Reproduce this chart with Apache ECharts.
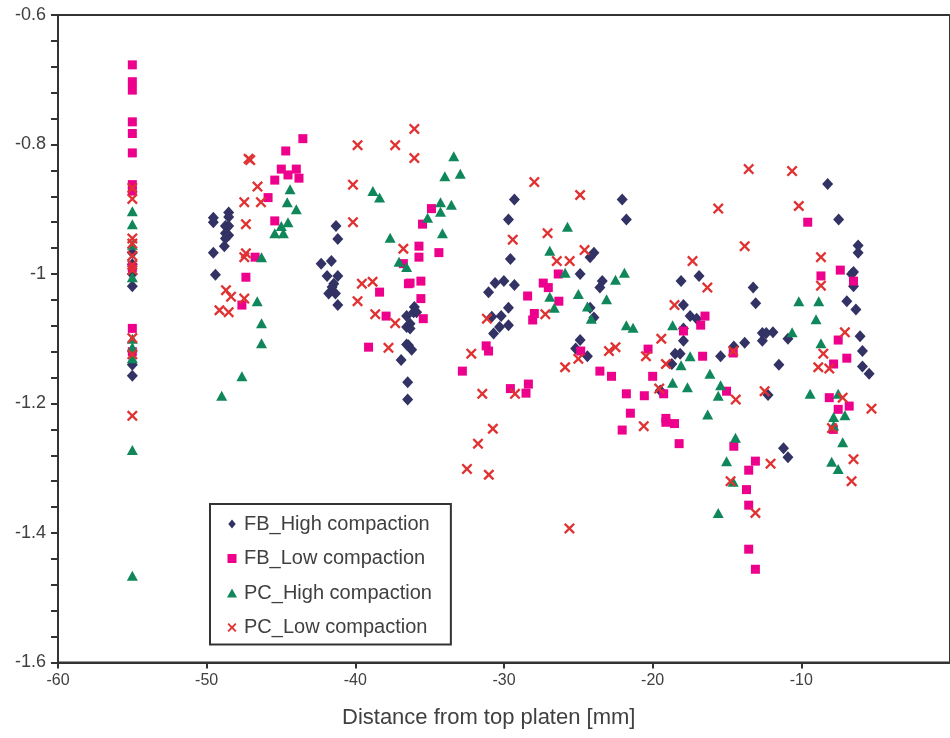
<!DOCTYPE html>
<html>
<head>
<meta charset="utf-8">
<script src="https://cdn.jsdelivr.net/npm/echarts@6/dist/echarts.min.js"></script>
<style>
  html, body { margin: 0; padding: 0; background: #ffffff; }
  #chart { width: 950px; height: 738px; }
</style>
</head>
<body>
<div id="chart"></div>
<script>
// Series names shown in the legend
const seriesNames = ['FB_High compaction', 'FB_Low compaction', 'PC_High compaction', 'PC_Low compaction'];

// [distance from top platen (mm), value]
const fbHigh = [
  [-55,-0.967],[-55,-0.985],[-55,-1.0],[-55,-1.019],[-55,-1.14],[-55,-1.157],
  [-49.55,-0.913],[-49.55,-0.920],[-48.52,-0.905],[-48.52,-0.912],[-48.74,-0.926],[-48.52,-0.926],[-48.74,-0.937],[-48.52,-0.940],[-48.74,-0.945],[-48.81,-0.957],[-49.55,-0.967],[-49.41,-1.001],
  [-41.30,-0.926],[-41.18,-0.946],[-42.30,-0.984],[-41.61,-0.980],[-41.90,-1.003],[-41.18,-1.003],[-41.45,-1.015],[-41.56,-1.020],[-41.79,-1.030],[-41.34,-1.030],[-41.18,-1.048],
  [-36.55,-1.065],[-36.55,-1.082],[-36.55,-1.109],[-36.92,-1.133],[-36.48,-1.167],[-36.48,-1.194],[-36.03,-1.051],[-36.08,-1.059],[-36.32,-1.077],[-36.32,-1.084],[-36.43,-1.110],[-36.21,-1.117],[-35.88,-1.059],
  [-29.30,-0.885],[-29.70,-0.916],[-29.57,-0.977],[-30.60,-1.014],[-30.01,-1.011],[-31.04,-1.028],[-29.30,-1.017],[-29.70,-1.052],[-30.19,-1.065],[-30.82,-1.066],[-30.30,-1.082],[-29.70,-1.079],[-30.70,-1.092],
  [-23.95,-0.967],[-24.21,-0.974],[-24.88,-1.000],[-23.39,-1.011],[-23.55,-1.021],[-24.21,-1.052],[-23.95,-1.067],[-24.88,-1.102],[-25.18,-1.115],[-24.39,-1.127],
  [-22.05,-0.885],[-21.77,-0.916],[-18.09,-1.011],[-16.88,-1.003],[-13.24,-1.021],[-13.07,-1.045],[-17.93,-1.048],[-17.48,-1.065],[-17.04,-1.069],[-17.93,-1.084],[-17.93,-1.103],[-18.49,-1.123],[-18.15,-1.123],[-18.71,-1.139],[-15.43,-1.127],[-14.54,-1.112],[-13.81,-1.106],[-12.62,-1.091],[-12.36,-1.091],[-11.91,-1.090],[-12.62,-1.103],[-10.90,-1.100],[-11.51,-1.140],[-19.49,-1.180],[-12.24,-1.187],
  [-8.23,-0.861],[-7.49,-0.916],[-6.18,-0.956],[-6.18,-0.967],[-6.49,-0.997],[-6.62,-1.000],[-6.49,-1.019],[-6.94,-1.042],[-6.33,-1.055],[-6.05,-1.096],[-5.89,-1.119],[-5.89,-1.143],[-5.44,-1.154],[-11.20,-1.269],[-10.90,-1.283]
];

const fbLow = [
  [-55,-0.677],[-55,-0.703],[-55,-0.716],[-55,-0.765],[-55,-0.783],[-55,-0.813],[-55,-0.862],[-55,-0.872],[-55,-0.99],[-55,-1.084],[-55,-1.12],
  [-43.53,-0.791],[-44.68,-0.810],[-44.98,-0.838],[-43.97,-0.838],[-44.53,-0.847],[-43.79,-0.852],[-45.42,-0.855],[-45.87,-0.882],[-45.42,-0.918],[-46.74,-0.974],[-47.36,-1.005],[-47.63,-1.048],
  [-38.37,-1.028],[-37.93,-1.065],[-39.11,-1.113],[-36.77,-0.984],[-36.43,-1.015],[-34.88,-0.899],[-35.48,-0.923],[-35.72,-0.957],[-35.72,-0.974],[-34.38,-0.967],[-36.32,-1.014],[-35.59,-1.011],[-35.59,-1.038],[-35.43,-1.069],
  [-32.80,-1.150],[-31.20,-1.111],[-31.04,-1.119],[-29.57,-1.177],[-28.52,-1.184],[-28.36,-1.170],[-28.41,-1.034],[-27.96,-1.061],[-28.07,-1.071],[-27.36,-1.014],[-27.02,-1.021],[-26.35,-1.000],[-26.31,-1.042],[-24.84,-1.119],[-23.55,-1.150],[-22.77,-1.158],[-21.77,-1.185],[-20.56,-1.188],[-21.50,-1.215],[-20.31,-1.116],[-20.0,-1.158],[-19.26,-1.185],[-19.11,-1.223],[-17.93,-1.088],[-16.77,-1.079],[-16.48,-1.065],[-16.64,-1.127],[-14.58,-1.122],[-15.03,-1.181],[-22.05,-1.241],[-19.11,-1.229],[-18.53,-1.231],[-18.22,-1.262],[-14.54,-1.266],[-13.09,-1.289],[-13.54,-1.303],[-13.69,-1.333],[-13.54,-1.357],[-13.54,-1.425],[-13.09,-1.456],
  [-9.57,-0.920],[-7.38,-0.994],[-8.68,-1.003],[-6.49,-1.011],[-7.52,-1.102],[-6.94,-1.130],[-7.83,-1.139],[-8.12,-1.191],[-7.52,-1.209],[-6.78,-1.204],[-7.85,-1.240]
];

const pcHigh = [
  [-55,-0.903],[-55,-0.923],[-55,-0.955],[-55,-1.005],[-55,-1.1],[-55,-1.113],[-55,-1.13],[-55,-1.272],[-55,-1.466],
  [-44.39,-0.869],[-44.58,-0.889],[-43.97,-0.900],[-44.53,-0.920],[-44.98,-0.926],[-45.42,-0.937],[-44.84,-0.937],[-46.31,-0.974],[-46.60,-1.042],[-46.31,-1.076],[-46.31,-1.107],[-47.63,-1.158],[-48.99,-1.188],
  [-38.82,-0.872],[-38.37,-0.882],[-37.66,-0.944],[-37.06,-0.981],[-36.55,-0.989],
  [-33.38,-0.818],[-33.98,-0.849],[-32.94,-0.845],[-34.27,-0.889],[-33.54,-0.893],[-34.27,-0.904],[-35.14,-0.913],[-34.14,-0.937],
  [-25.73,-0.927],[-26.92,-0.964],[-25.89,-0.998],[-26.92,-1.035],[-26.62,-1.052],[-25.0,-1.031],[-24.39,-1.050],[-24.13,-1.069],[-23.10,-1.039],[-22.50,-1.009],[-21.90,-0.998],[-21.77,-1.079],[-21.32,-1.083],
  [-18.66,-1.079],[-17.48,-1.127],[-18.09,-1.141],[-16.15,-1.154],[-18.66,-1.168],[-17.66,-1.175],[-15.43,-1.172],[-15.59,-1.188],[-16.30,-1.217],[-14.43,-1.253],[-15.03,-1.289],[-14.58,-1.321],[-15.59,-1.369],
  [-10.62,-1.090],[-10.17,-1.042],[-8.83,-1.042],[-9.01,-1.070],[-8.68,-1.107],[-9.41,-1.185],[-7.52,-1.185],[-7.83,-1.221],[-7.07,-1.218],[-7.83,-1.234],[-7.22,-1.260],[-7.96,-1.290],[-7.52,-1.301]
];

const pcLow = [
  [-55,-0.867],[-55,-0.884],[-55,-0.945],[-55,-0.953],[-55,-0.972],[-55,-0.986],[-55,-0.994],[-55,-1.099],[-55,-1.124],[-55,-1.219],
  [-47.18,-0.822],[-47.07,-0.824],[-46.58,-0.865],[-47.47,-0.889],[-46.35,-0.889],[-47.36,-0.923],[-47.36,-0.968],[-47.47,-0.974],[-48.70,-1.025],[-48.36,-1.035],[-47.47,-1.038],[-49.14,-1.056],[-48.52,-1.059],
  [-39.85,-0.801],[-37.32,-0.801],[-40.16,-0.862],[-40.16,-0.920],[-36.77,-0.961],[-39.56,-1.015],[-38.84,-1.012],[-39.85,-1.042],[-38.66,-1.062],[-37.32,-1.076],[-37.77,-1.114],[-36.03,-0.776],[-36.03,-0.821],
  [-27.96,-0.858],[-24.88,-0.878],[-29.41,-0.947],[-27.07,-0.937],[-24.58,-0.963],[-26.45,-0.980],[-25.58,-0.980],[-31.15,-1.069],[-27.22,-1.062],[-32.20,-1.123],[-31.46,-1.185],[-29.26,-1.185],[-25.89,-1.144],[-25.0,-1.131],[-22.94,-1.119],[-22.50,-1.113],[-30.75,-1.239],[-31.75,-1.262],[-32.49,-1.301],[-31.02,-1.310],[-25.60,-1.393],
  [-13.54,-0.838],[-10.62,-0.841],[-10.17,-0.895],[-15.59,-0.899],[-13.81,-0.957],[-17.32,-0.980],[-16.32,-1.021],[-18.53,-1.048],[-19.42,-1.100],[-20.45,-1.127],[-19.11,-1.139],[-19.56,-1.177],[-14.58,-1.119],[-14.41,-1.194],[-12.47,-1.181],[-20.60,-1.235],[-12.07,-1.293],[-14.76,-1.320],[-13.09,-1.369],
  [-8.68,-0.974],[-8.68,-1.018],[-7.07,-1.090],[-8.52,-1.123],[-8.86,-1.144],[-8.12,-1.146],[-7.22,-1.191],[-5.28,-1.208],[-7.94,-1.238],[-6.49,-1.286],[-6.62,-1.320]
];

const xAxisTitle = 'Distance from top platen [mm]';

// Marker outlines (filled paths)
const crossPath = 'path://M0,1.5L1.5,0L5,3.5L8.5,0L10,1.5L6.5,5L10,8.5L8.5,10L5,6.5L1.5,10L0,8.5L3.5,5Z';
const diamondPath = 'path://M5,0L10,6L5,12L0,6Z';
const squarePath = 'path://M0,0H10V10H0Z';
const trianglePath = 'path://M5,0L10,9L0,9Z';

const FONT = '"Liberation Sans", Arial, sans-serif';
const AXIS_COLOR = '#333333';
const TEXT_COLOR = '#404040';

const chart = echarts.init(document.getElementById('chart'), null, { renderer: 'canvas' });

chart.setOption({
  animation: false,
  backgroundColor: '#ffffff',
  textStyle: { fontFamily: FONT },
  grid: {
    left: 58, top: 15, right: -5, bottom: 75.5,
    show: true, borderColor: AXIS_COLOR, borderWidth: 2, backgroundColor: 'transparent'
  },
  xAxis: {
    type: 'value', min: -60, max: 0, interval: 10,
    axisLine: { show: true, onZero: false, lineStyle: { color: AXIS_COLOR, width: 2 } },
    axisTick: { show: true, inside: false, length: 6, lineStyle: { color: AXIS_COLOR, width: 2 } },
    axisLabel: { color: TEXT_COLOR, fontSize: 16, fontFamily: FONT, margin: 10, showMaxLabel: false },
    splitLine: { show: false }
  },
  yAxis: {
    type: 'value', min: -1.6, max: -0.6, interval: 0.2,
    axisLine: { show: true, onZero: false, lineStyle: { color: AXIS_COLOR, width: 2 } },
    axisTick: { show: true, inside: false, length: 7, lineStyle: { color: AXIS_COLOR, width: 2 } },
    minorTick: { show: true, splitNumber: 5, length: 7, lineStyle: { color: AXIS_COLOR, width: 2 } },
    axisLabel: { color: TEXT_COLOR, fontSize: 18, fontFamily: FONT, margin: 12 },
    splitLine: { show: false }
  },
  legend: {
    orient: 'vertical',
    left: 210, top: 504,
    padding: [10, 19, 7, 17],
    backgroundColor: '#ffffff',
    borderColor: AXIS_COLOR, borderWidth: 2,
    itemWidth: 14, itemHeight: 9, itemGap: 14.5,
    symbolKeepAspect: true,
    textStyle: { color: TEXT_COLOR, fontSize: 20, fontFamily: FONT, lineHeight: 20 },
    data: [
      { name: seriesNames[0], icon: diamondPath },
      { name: seriesNames[1], icon: squarePath },
      { name: seriesNames[2], icon: trianglePath },
      { name: seriesNames[3], icon: crossPath }
    ]
  },
  graphic: [{
    type: 'text', left: 342, top: 707,
    style: { text: xAxisTitle, fill: TEXT_COLOR, font: '22px ' + FONT }
  }],
  series: [
    { name: seriesNames[0], type: 'scatter', data: fbHigh, symbol: 'diamond', symbolSize: [11, 12],
      itemStyle: { color: '#323264', opacity: 1 } },
    { name: seriesNames[1], type: 'scatter', data: fbLow, symbol: 'rect', symbolSize: 9,
      itemStyle: { color: '#ec008c', opacity: 1 } },
    { name: seriesNames[2], type: 'scatter', data: pcHigh, symbol: 'triangle', symbolSize: [11, 10],
      itemStyle: { color: '#10875a', opacity: 1 } },
    { name: seriesNames[3], type: 'scatter', data: pcLow, symbol: crossPath, symbolSize: 11,
      itemStyle: { color: '#e03232', opacity: 1 } }
  ]
});
</script>
</body>
</html>
